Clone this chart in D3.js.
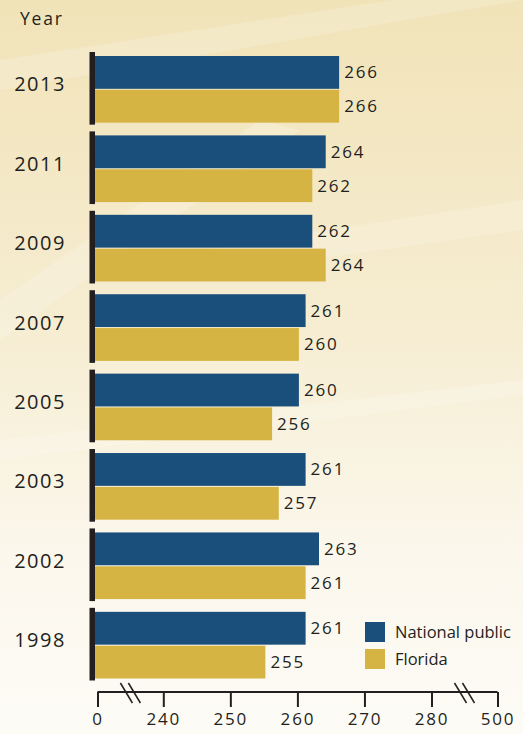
<!DOCTYPE html>
<html>
<head>
<meta charset="utf-8">
<script src="https://cdn.jsdelivr.net/npm/d3@7"></script>
<style>
  body { margin: 0; background: #fbf8ee; }
  svg { display: block; font-family: "Open Sans", "Noto Sans", sans-serif; }
</style>
</head>
<body>
<svg width="523" height="734"></svg>
<script>
const years = ["2013", "2011", "2009", "2007", "2005", "2003", "2002", "1998"];
const national = [266, 264, 262, 261, 260, 261, 263, 261];
const florida = [266, 262, 264, 260, 256, 257, 261, 255];
const tickValues = [0, 240, 250, 260, 270, 280, 500];
const seriesNames = ["National public", "Florida"];

const blue = "#1a4f7c";
const gold = "#d5b443";
const ink = "#231f20";

const svg = d3.select("svg");

// background: warm gradient with faint light streaks
const defs = svg.append("defs");
const bg = defs.append("linearGradient")
    .attr("id", "bg")
    .attr("x1", 0).attr("y1", 0).attr("x2", 0).attr("y2", 1);
bg.append("stop").attr("offset", "0%").attr("stop-color", "#f1e3b8");
bg.append("stop").attr("offset", "45%").attr("stop-color", "#f6edd2");
bg.append("stop").attr("offset", "75%").attr("stop-color", "#fbf7ec");
bg.append("stop").attr("offset", "100%").attr("stop-color", "#fdfbf6");

svg.append("rect")
    .attr("width", 523).attr("height", 734)
    .attr("fill", "url(#bg)");

const streaks = [
  "M0,60 L523,-20 L523,0 L0,90 Z",
  "M0,300 L260,120 L300,130 L0,340 Z",
  "M200,250 L523,200 L523,230 L200,275 Z",
  "M0,440 L523,380 L523,395 L0,460 Z"
];
svg.append("g")
    .selectAll("path")
    .data(streaks)
    .join("path")
    .attr("d", d => d)
    .attr("fill", "#ffffff")
    .attr("opacity", 0.18);

// scales
const x = d3.scaleLinear()
    .domain([0, 240, 280, 500])
    .range([97.5, 163.3, 431.5, 497.5]);

const y = d3.scaleBand()
    .domain(years)
    .range([52, 680.5])
    .paddingInner(0.085)
    .paddingOuter(0);

const rows = years.map((yr, i) => ({ year: yr, values: [national[i], florida[i]] }));

const barLeft = x(0) - 2.5;
const groups = svg.append("g")
    .selectAll("g")
    .data(rows)
    .join("g")
    .attr("transform", d => `translate(0, ${y(d.year)})`);

const bh = y.bandwidth();
const sub = d3.scaleBand()
    .domain([0, 1])
    .range([4, bh - 2])
    .paddingInner(0.03);

groups.append("rect")
    .attr("x", barLeft - 5.5)
    .attr("y", 0)
    .attr("width", 5.5)
    .attr("height", bh)
    .attr("fill", ink);

groups.selectAll("rect.bar")
    .data(d => d.values.map((v, j) => ({ v, j })))
    .join("rect")
    .attr("class", "bar")
    .attr("x", barLeft)
    .attr("y", d => sub(d.j))
    .attr("width", d => x(d.v) - barLeft + 1.5)
    .attr("height", sub.bandwidth())
    .attr("fill", d => d.j === 0 ? blue : gold);

groups.selectAll("text.val")
    .data(d => d.values.map((v, j) => ({ v, j })))
    .join("text")
    .attr("class", "val")
    .attr("x", d => x(d.v) + 6.5)
    .attr("y", d => sub(d.j) + sub.bandwidth() / 2)
    .attr("dy", "0.35em")
    .attr("font-size", 17)
    .attr("letter-spacing", 1.8)
    .attr("fill", ink)
    .text(d => d.v);

groups.append("text")
    .attr("x", 40)
    .attr("y", bh / 2 + 3)
    .attr("text-anchor", "middle")
    .attr("font-size", 20)
    .attr("letter-spacing", 1.5)
    .attr("fill", ink)
    .text(d => d.year);

svg.append("text")
    .attr("x", 20)
    .attr("y", 25)
    .attr("font-size", 17.5)
    .attr("letter-spacing", 1.8)
    .attr("fill", ink)
    .text("Year");

// axis
const axisY = 692;
const axis = d3.axisBottom(x)
    .tickValues(tickValues)
    .tickSize(15)
    .tickPadding(6)
    .tickFormat(d3.format("d"));

const axisG = svg.append("g")
    .attr("transform", `translate(0, ${axisY})`)
    .call(axis);

axisG.select(".domain")
    .attr("d", `M${x(0)},0H${x(500)}`)
    .attr("stroke", ink)
    .attr("stroke-width", 2);
axisG.selectAll(".tick line")
    .attr("stroke", ink)
    .attr("stroke-width", 2);
axisG.selectAll(".tick text")
    .attr("font-size", 17)
    .attr("letter-spacing", 1.8)
    .attr("fill", ink)
    .attr("font-family", "'Open Sans', 'Noto Sans', sans-serif");

// break marks
const breaks = [(x(0) + x(240)) / 2, (x(280) + x(500)) / 2];
const slashes = svg.append("g");
breaks.forEach(bx => {
  [-4, 4].forEach(off => {
    slashes.append("line")
        .attr("x1", bx + off - 6).attr("y1", axisY - 9)
        .attr("x2", bx + off + 6).attr("y2", axisY + 11)
        .attr("stroke", ink)
        .attr("stroke-width", 1.5);
  });
});

// legend
const legend = svg.append("g")
    .attr("transform", "translate(365, 622)")
    .selectAll("g")
    .data(seriesNames)
    .join("g")
    .attr("transform", (d, i) => `translate(0, ${i * 27})`);

legend.append("rect")
    .attr("width", 20)
    .attr("height", 20)
    .attr("fill", (d, i) => i === 0 ? blue : gold);

legend.append("text")
    .attr("x", 30)
    .attr("y", 10)
    .attr("dy", "0.36em")
    .attr("font-size", 16.5)
    .attr("fill", ink)
    .text(d => d);
</script>
</body>
</html>
